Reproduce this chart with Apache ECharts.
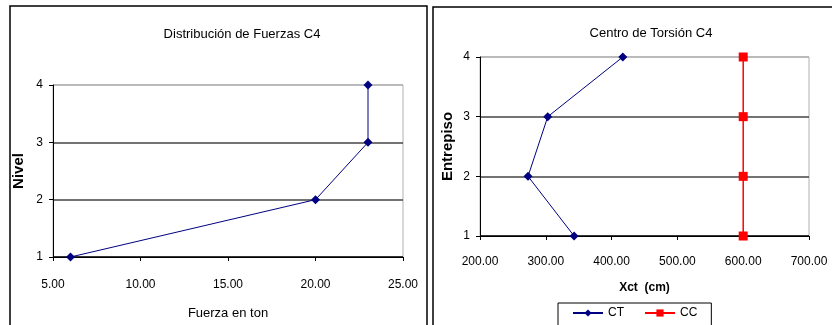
<!DOCTYPE html>
<html><head><meta charset="utf-8">
<script src="https://cdn.jsdelivr.net/npm/echarts@6/dist/echarts.min.js"></script>
<style>html,body{margin:0;padding:0;background:#fff}#c{width:832px;height:325px}</style>
</head><body><div id="c"></div>
<script>
// Left chart: Distribución de Fuerzas C4
const fuerzaNivel = [1, 2, 3, 4];
const fuerzaTon = [6, 20, 23, 23];
// Right chart: Centro de Torsión C4
const entrepiso = [1, 2, 3, 4];
const xctCT = [343, 273, 303, 417];
const xctCC = [600, 600, 600, 600];
const titles = ['Distribución de Fuerzas C4', 'Centro de Torsión C4'];

const FONT = 'Liberation Sans, Arial, sans-serif';
const chart = echarts.init(document.getElementById('c'));
const txt = {color: '#000', fontFamily: FONT, fontSize: 12};
function xAx(idx, min, max, interval, name, margin, gap, nameSize) {
  return {
    type: 'value', gridIndex: idx, min, max, interval, name,
    nameLocation: 'middle', nameGap: gap,
    nameTextStyle: {...txt, fontSize: nameSize, fontWeight: idx === 1 ? 'bold' : 'normal'},
    axisLine: {show: true, onZero: false, lineStyle: {color: '#000', width: 1}},
    axisTick: {show: true, inside: false, length: 4, lineStyle: {color: '#000'}},
    axisLabel: {...txt, margin, formatter: v => v.toFixed(2)},
    splitLine: {show: false}
  };
}
function yAx(idx, name, gap) {
  return {
    type: 'value', gridIndex: idx, min: 1, max: 4, interval: 1, name,
    nameLocation: 'middle', nameGap: gap,
    nameTextStyle: {...txt, fontWeight: 'bold', fontSize: 15},
    axisLine: {show: true, onZero: false, lineStyle: {color: '#000', width: 1}},
    axisTick: {show: true, inside: false, length: 4, lineStyle: {color: '#000'}},
    axisLabel: {...txt, margin: 10},
    splitLine: {show: true, lineStyle: {color: ['#000', '#444', '#444', '#b0b0b0'], width: 1.5}}
  };
}
chart.setOption({
  animation: false,
  graphic: [
    {type: 'rect', shape: {x: 10, y: 6, width: 417, height: 340}, style: {fill: 'none', stroke: '#000', lineWidth: 1.5}},
    {type: 'rect', shape: {x: 433, y: 7, width: 420, height: 340}, style: {fill: 'none', stroke: '#000', lineWidth: 1.5}}
  ],
  title: [
    {text: titles[0], left: 237, top: 23, textAlign: 'center', textStyle: {...txt, fontSize: 13, fontWeight: 'normal'}},
    {text: titles[1], left: 646, top: 22, textAlign: 'center', textStyle: {...txt, fontSize: 13, fontWeight: 'normal'}}
  ],
  legend: {
    left: 558, top: 303, width: 148, itemGap: 20, itemWidth: 30, itemHeight: 9,
    padding: [4, 14, 10, 14],
    borderColor: '#000', borderWidth: 1, textStyle: txt,
    data: ['CT', 'CC']
  },
  grid: [
    {left: 53, top: 85, width: 350, height: 174, show: true, borderColor: '#b0b0b0', borderWidth: 1, backgroundColor: 'transparent'},
    {left: 480, top: 57, width: 329, height: 179, show: true, borderColor: '#b0b0b0', borderWidth: 1, backgroundColor: 'transparent'}
  ],
  xAxis: [xAx(0, 5, 25, 5, 'Fuerza en ton', 22, 50, 13), xAx(1, 200, 700, 100, 'Xct  (cm)', 20, 46, 12)],
  yAxis: [yAx(0, 'Nivel', 27), yAx(1, 'Entrepiso', 25)],
  series: [
    {name: 'Fuerza', type: 'line', xAxisIndex: 0, yAxisIndex: 0,
     data: fuerzaTon.map((v, i) => [v, fuerzaNivel[i]]),
     symbol: 'diamond', symbolSize: 9, lineStyle: {color: '#000080', width: 1},
     itemStyle: {color: '#000080'}},
    {name: 'CT', type: 'line', xAxisIndex: 1, yAxisIndex: 1,
     data: xctCT.map((v, i) => [v, entrepiso[i]]),
     symbol: 'diamond', symbolSize: 9, lineStyle: {color: '#000080', width: 1},
     itemStyle: {color: '#000080'}},
    {name: 'CC', type: 'line', xAxisIndex: 1, yAxisIndex: 1,
     data: xctCC.map((v, i) => [v, entrepiso[i]]),
     symbol: 'rect', symbolSize: 9, lineStyle: {color: '#ff0000', width: 1.5},
     itemStyle: {color: '#ff0000'}}
  ]
});
</script></body></html>
